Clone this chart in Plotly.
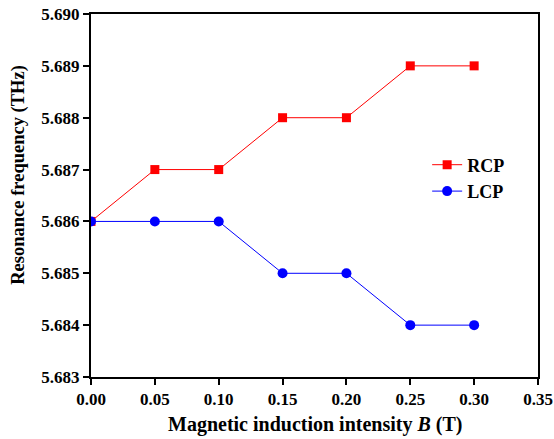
import plotly.graph_objects as go

B = [0.00, 0.05, 0.10, 0.15, 0.20, 0.25, 0.30]
rcp = [5.686, 5.687, 5.687, 5.688, 5.688, 5.689, 5.689]
lcp = [5.686, 5.686, 5.686, 5.685, 5.685, 5.684, 5.684]

x_ticks = [0.00, 0.05, 0.10, 0.15, 0.20, 0.25, 0.30, 0.35]
x_labels = ["0.00", "0.05", "0.10", "0.15", "0.20", "0.25", "0.30", "0.35"]
y_ticks = [5.683, 5.684, 5.685, 5.686, 5.687, 5.688, 5.689, 5.690]
y_labels = ["5.683", "5.684", "5.685", "5.686", "5.687", "5.688", "5.689", "5.690"]

SERIF = "Liberation Serif, Times New Roman, serif"

fig = go.Figure()
fig.add_trace(go.Scatter(x=B, y=rcp, mode="lines+markers", name="<b>RCP</b>",
                         line=dict(color="#ff0000", width=1),
                         marker=dict(symbol="square", size=9, color="#ff0000")))
fig.add_trace(go.Scatter(x=B, y=lcp, mode="lines+markers", name="<b>LCP</b>",
                         line=dict(color="#0000ff", width=1),
                         marker=dict(symbol="circle", size=10, color="#0000ff")))

axis_common = dict(showline=True, linecolor="black", linewidth=2, mirror=True,
                   ticks="outside", ticklen=6, tickwidth=2, tickcolor="black",
                   showgrid=False, zeroline=False, automargin=False,
                   tickfont=dict(family=SERIF, size=17, color="black"),
                   minor=dict(ticks="outside", ticklen=3, tickwidth=2, tickcolor="black",
                              showgrid=False, nticks=2))

fig.update_layout(
    width=554, height=439,
    margin=dict(l=91, r=16, t=14, b=62),
    paper_bgcolor="white", plot_bgcolor="white",
    font=dict(family=SERIF, size=14, color="black"),
    xaxis=dict(range=[0, 0.35], tickmode="array", tickvals=x_ticks,
               ticktext=["<b>%s</b>" % t for t in x_labels], **axis_common),
    yaxis=dict(range=[5.683, 5.690], tickmode="array", tickvals=y_ticks,
               ticktext=["<b>%s</b>" % t for t in y_labels], **axis_common),
    legend=dict(x=0.752, y=0.635, xanchor="left", yanchor="top",
                bgcolor="rgba(0,0,0,0)",
                font=dict(family=SERIF, size=18, color="black"),
                tracegroupgap=0),
    showlegend=True,
    annotations=[
        dict(text="<b>Magnetic induction intensity <i>B</i> (T)</b>", xref="paper", yref="paper",
             x=0.5, y=-0.13, xanchor="center", yanchor="middle", showarrow=False,
             font=dict(family=SERIF, size=20, color="black")),
        dict(text="<b>Resonance frequency (THz)</b>", xref="paper", yref="paper",
             x=-0.162, y=0.556, xanchor="center", yanchor="middle", showarrow=False, textangle=-90,
             font=dict(family=SERIF, size=18.5, color="black")),
    ],
)

fig.write_html("out.html")
